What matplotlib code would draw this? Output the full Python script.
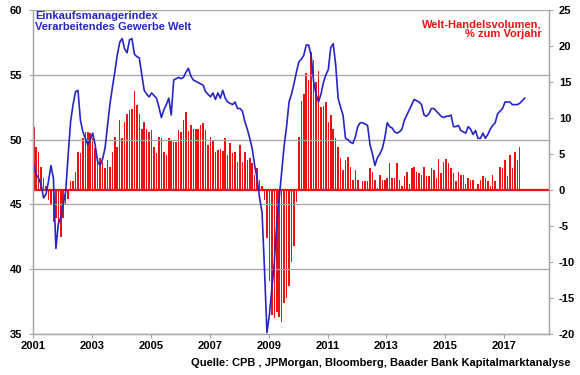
import matplotlib
matplotlib.use("Agg")
import matplotlib.pyplot as plt
import numpy as np

plt.rcParams['font.family'] = ['Liberation Sans', 'DejaVu Sans']
plt.rcParams['font.weight'] = 'bold'
plt.rcParams['axes.unicode_minus'] = False

# Einkaufsmanagerindex (PMI), monthly Jan 2001 - Sep 2017
pmi = [
    48.0, 47.3, 47.0, 46.5, 45.5, 45.8, 46.8, 48.0, 47.0, 41.6, 43.5, 44.0,   # 2001
    45.0, 46.0, 48.8, 51.4, 52.7, 53.7, 53.8, 51.5, 50.6, 50.1, 49.6, 50.0,   # 2002
    50.5, 49.6, 48.3, 48.0, 48.5, 49.3, 51.0, 52.7, 54.0, 55.2, 56.5, 57.5,   # 2003
    57.8, 57.0, 56.7, 57.7, 57.8, 56.6, 56.4, 56.3, 55.0, 53.8, 53.5, 53.3,   # 2004
    53.6, 53.4, 53.2, 52.5, 51.7, 52.3, 52.7, 53.2, 51.9, 54.6, 54.7, 54.8,   # 2005
    54.7, 54.8, 55.2, 55.5, 54.9, 54.6, 54.5, 54.4, 54.3, 54.2, 53.7, 53.5,   # 2006
    53.3, 53.6, 53.1, 53.6, 53.2, 53.8, 53.2, 52.9, 52.8, 52.7, 52.9, 52.4,   # 2007
    52.4, 52.2, 51.4, 50.8, 50.1, 49.3, 48.0, 47.0, 45.5, 44.4, 40.0, 35.1,   # 2008
    36.5, 38.5, 40.5, 43.5, 45.5, 47.5, 49.5, 51.0, 52.9, 53.5, 54.3, 55.2,   # 2009
    56.0, 56.2, 56.5, 57.3, 57.3, 56.5, 54.5, 53.5, 52.9, 53.5, 54.4, 55.0,   # 2010
    55.4, 57.1, 57.4, 55.8, 53.2, 52.5, 51.9, 50.1, 50.0, 49.8, 49.7, 50.2,   # 2011
    51.0, 51.3, 51.3, 51.2, 51.1, 49.6, 48.9, 48.0, 48.6, 48.9, 49.3, 50.1,   # 2012
    51.3, 51.0, 50.9, 50.6, 50.5, 50.6, 50.8, 51.5, 51.9, 52.3, 52.7, 53.1,   # 2013
    53.0, 52.9, 52.7, 51.9, 51.8, 52.0, 52.4, 52.4, 52.2, 52.0, 51.8, 51.7,   # 2014
    51.8, 51.8, 51.9, 51.0, 51.0, 51.1, 50.7, 50.6, 50.5, 51.0, 50.8, 50.4,   # 2015
    50.7, 50.1, 50.1, 50.5, 50.1, 50.4, 50.8, 51.1, 51.3, 52.0, 52.2, 52.4,   # 2016
    52.9, 52.9, 52.9, 52.7, 52.7, 52.7, 52.8, 53.0, 53.2,                     # 2017
]

# Welt-Handelsvolumen, % zum Vorjahr, monthly Jan 2001 - Jul 2017
trade = [
    8.8, 6.0, 5.3, 3.2, 1.6, 0.5, -1.4, -2.1, -4.4, -3.9, -5.1, -6.5,
    -3.9, -2.1, -1.2, 1.2, 1.2, 2.5, 5.3, 5.1, 7.2, 8.1, 8.1, 7.9,
    7.2, 5.8, 4.6, 4.4, 3.9, 3.0, 4.2, 3.2, 5.3, 7.4, 6.0, 9.7,
    7.2, 9.4, 10.6, 11.1, 11.3, 13.7, 11.8, 10.6, 8.5, 9.4, 8.5, 8.1,
    8.3, 6.0, 5.1, 7.4, 7.2, 5.3, 4.9, 7.2, 6.9, 6.7, 6.7, 8.3,
    8.1, 9.7, 10.8, 8.2, 9.0, 8.5, 8.5, 8.5, 9.0, 9.3, 8.3, 6.2,
    7.4, 6.9, 5.3, 5.6, 5.7, 5.4, 7.2, 4.9, 6.5, 5.1, 5.3, 3.9,
    6.2, 3.9, 5.3, 4.2, 4.4, 3.7, 2.1, 3.0, 1.4, 0.5, -1.4, -6.7,
    -12.7, -17.4, -17.8, -16.9, -17.6, -18.3, -15.7, -15.0, -13.4, -10.0, -7.8, -1.6,
    7.4, 12.3, 13.4, 16.2, 15.3, 19.2, 18.0, 15.0, 16.5, 11.5, 11.6, 12.2,
    9.5, 10.4, 8.5, 7.2, 6.0, 4.4, 2.8, 4.2, 4.6, 3.2, 1.4, 2.8,
    1.4, -0.2, 1.2, 1.2, 1.2, 3.0, 2.5, 1.4, 0.3, 2.1, 1.4, 1.4,
    1.6, 3.7, 1.6, 1.7, 3.7, 1.4, 0.5, 2.0, 2.5, 0.9, 3.0, 3.2,
    2.5, 2.3, 2.1, 3.2, 1.9, 1.9, 3.0, 2.8, 1.6, 4.3, 2.3, 3.9,
    4.3, 3.7, 3.0, 2.3, 1.2, 2.5, 2.1, 2.1, 0.9, 1.6, 1.4, 1.4,
    -0.2, 0.9, 1.4, 1.9, 1.6, 1.2, 0.5, 2.1, 1.2, 0.0, 3.2, 3.0,
    4.2, 1.9, 4.9, 3.0, 5.3, 4.2, 6.0,
]

year_ticks = [2001, 2003, 2005, 2007, 2009, 2011, 2013, 2015, 2017]
left_ticks = [35, 40, 45, 50, 55, 60]
right_ticks = [-20, -15, -10, -5, 0, 5, 10, 15, 20, 25]

t_pmi = 2001 + (np.arange(len(pmi)) + 0.3) / 12
t_trade = 2001 + (np.arange(len(trade)) + 0.3) / 12

blue = '#2626c4'
red = '#ee1111'
grey = '#a6a6a6'

fig = plt.figure(figsize=(5.8, 3.75), dpi=100)
ax = fig.add_axes([0.057, 0.1093, 0.8896, 0.864])
ax2 = ax.twinx()
ax.set_zorder(ax2.get_zorder() + 1)
ax.patch.set_visible(False)

# bars on the right axis
ax2.bar(t_trade, trade, width=0.62 / 12, color=red, linewidth=0)
ax2.axhline(0, color=red, lw=1.6)
ax2.set_ylim(-20, 25)
ax2.set_yticks(right_ticks)

# PMI line on the left axis
ax.plot(t_pmi, pmi, color=blue, lw=1.2)
ax.set_ylim(35, 60)
ax.set_yticks(left_ticks)
ax.set_xlim(2001, 2018.52)
ax.set_xticks(year_ticks)
ax.grid(axis='y', color=grey, lw=0.9)
ax.set_axisbelow(True)

for a in (ax, ax2):
    for s in a.spines.values():
        s.set_color(grey)
        s.set_linewidth(0.9)
    a.spines['top'].set_visible(False)
    a.tick_params(colors=grey, labelcolor='black', labelsize=8, length=3, width=0.8)
ax.tick_params(axis='x', pad=2)
ax.tick_params(axis='y', pad=5)
ax2.tick_params(axis='y', pad=4)
for lbl in ax.get_xticklabels() + ax.get_yticklabels() + ax2.get_yticklabels():
    lbl.set_fontweight('bold')

ax.text(0.004, 0.997, 'Einkaufsmanagerindex\nVerarbeitendes Gewerbe Welt',
        transform=ax.transAxes, ha='left', va='top', color=blue,
        fontsize=8, fontweight='bold', linespacing=1.1)
ax.text(0.985, 0.972, 'Welt-Handelsvolumen,\n% zum Vorjahr',
        transform=ax.transAxes, ha='right', va='top', color=red,
        fontsize=8, fontweight='bold', linespacing=1.05, multialignment='right')
fig.text(0.983, 0.033, 'Quelle: CPB , JPMorgan, Bloomberg, Baader Bank Kapitalmarktanalyse',
         ha='right', va='center', fontsize=8, fontweight='bold')

fig.savefig('out.png', dpi=100)
